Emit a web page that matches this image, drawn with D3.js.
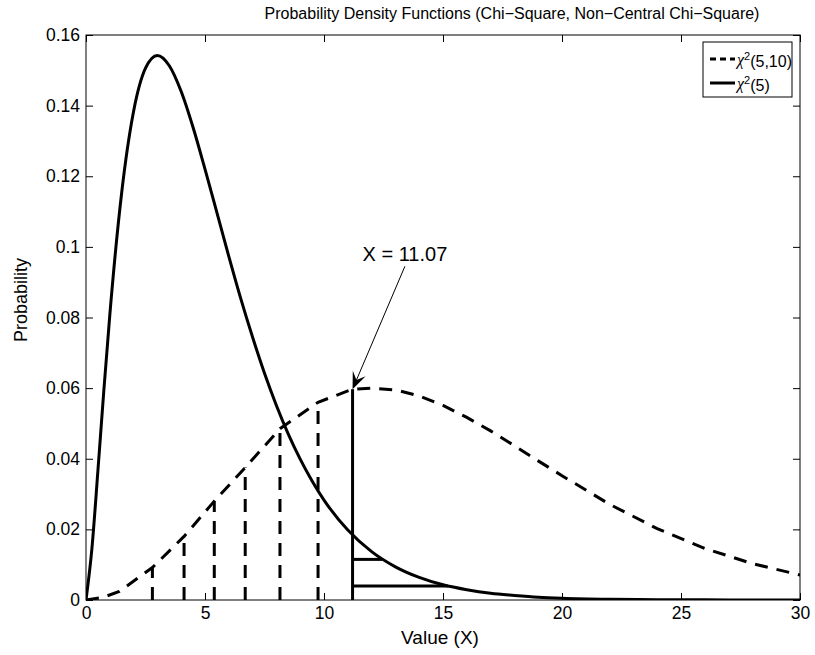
<!DOCTYPE html>
<html>
<head>
<meta charset="utf-8">
<script src="https://cdn.jsdelivr.net/npm/d3@7"></script>
<style>
  body { margin: 0; background: #fff; }
  text { font-family: "Liberation Sans", Arial, Helvetica, sans-serif; fill: #000; }
</style>
</head>
<body>
<div id="chart"></div>
<script>
// values
var xTicks = [0, 5, 10, 15, 20, 25, 30];
var yTicks = [0, 0.02, 0.04, 0.06, 0.08, 0.1, 0.12, 0.14, 0.16];

// chi2(5) curve
var chiX = [0, 0.25, 0.5, 0.75, 1, 1.5, 2, 2.5, 3, 3.5, 4, 4.5, 5, 5.5, 6, 6.5, 7, 7.5, 8, 8.5, 9, 9.5, 10, 11, 12, 13, 14, 15, 16, 17, 18, 19, 20, 22, 24, 26, 28, 30];
var chiY = [0, 0.0147, 0.0366, 0.0594, 0.0807, 0.1154, 0.1384, 0.1506, 0.1542, 0.1513, 0.1440, 0.1338, 0.1220, 0.1097, 0.0973, 0.0854, 0.0744, 0.0642, 0.0551, 0.0470, 0.0399, 0.0337, 0.0283, 0.0198, 0.0137, 0.0094, 0.0064, 0.0043, 0.0029, 0.0019, 0.0013, 0.0008, 0.0005, 0.0002, 0.0001, 0.00004, 0.00002, 0.00001];

// chi2(5,10) curve
var ncX = [0, 0.7, 1.4, 2.79, 4.12, 5.39, 6.69, 8.15, 9.75, 11.2, 12, 13, 14, 15, 16, 17, 18, 19, 20, 22, 24, 26, 28, 30];
var ncY = [0, 0.0007, 0.0024, 0.0092, 0.0180, 0.0280, 0.0375, 0.0485, 0.0560, 0.0597, 0.0600, 0.0595, 0.0578, 0.0551, 0.0517, 0.0479, 0.0437, 0.0394, 0.0352, 0.0271, 0.0202, 0.0146, 0.0103, 0.0071];

// dashed drop lines under the non-central curve
var dropX = [2.79, 4.12, 5.39, 6.69, 8.15, 9.75];
var dropY = [0.0092, 0.0180, 0.0280, 0.0375, 0.0485, 0.0560];

// critical value line and the two steps on the tail
var critX = 11.2;
var critY = 0.0597;
var stepEndX = [12.45, 15.2];
var stepY = [0.0115, 0.0040];

var critLabel = "X = 11.07";
var labelAt = [13.4, 0.0960];
var arrowFrom = [13.4, 0.0945];

var titleText = "Probability Density Functions (Chi\u2212Square, Non\u2212Central Chi\u2212Square)";
var xLabel = "Value (X)";
var yLabel = "Probability";
var legendNames = ["(5,10)", "(5)"];

var width = 815, height = 655;
var margin = {top: 35, right: 15, bottom: 55, left: 86};
var w = width - margin.left - margin.right;
var h = height - margin.top - margin.bottom;

var svg = d3.select("#chart")
    .append("svg")
    .attr("width", width)
    .attr("height", height)

var g = svg.append("g")
    .attr("transform", "translate(" + margin.left + "," + margin.top + ")")

var x = d3.scaleLinear().domain([0, 30]).range([0, w]);
var y = d3.scaleLinear().domain([0, 0.16]).range([h, 0]);

var fmt = function(d) { return String(+d.toFixed(2)); }

//axes, ticks pointing inward on all four sides
function styleAxis(sel) {
    sel.select(".domain").remove();
    sel.selectAll("line").attr("stroke", "#000").attr("stroke-width", 1);
    sel.selectAll("text").style("font-size", "17.5px");
}

g.append("g")
    .attr("transform", "translate(0," + h + ")")
    .call(d3.axisBottom(x).tickValues(xTicks).tickSize(-7).tickPadding(7).tickFormat(fmt))
    .call(styleAxis)

g.append("g")
    .call(d3.axisTop(x).tickValues(xTicks).tickSize(-7).tickFormat(""))
    .call(styleAxis)

g.append("g")
    .call(d3.axisLeft(y).tickValues(yTicks).tickSize(-7).tickPadding(6).tickFormat(fmt))
    .call(styleAxis)

g.append("g")
    .attr("transform", "translate(" + w + ",0)")
    .call(d3.axisRight(y).tickValues(yTicks).tickSize(-7).tickFormat(""))
    .call(styleAxis)

g.append("defs").append("clipPath")
    .attr("id", "clip")
    .append("rect")
    .attr("width", w)
    .attr("height", h)

var plot = g.append("g").attr("clip-path", "url(#clip)");

var line = d3.line()
    .x(function(d) { return x(d[0]); })
    .y(function(d) { return y(d[1]); })

// curves
plot.append("path")
    .datum(d3.zip(chiX, chiY))
    .attr("fill", "none")
    .attr("stroke", "#000")
    .attr("stroke-width", 3)
    .attr("d", line.curve(d3.curveMonotoneX))

plot.append("path")
    .datum(d3.zip(ncX, ncY))
    .attr("fill", "none")
    .attr("stroke", "#000")
    .attr("stroke-width", 3)
    .attr("stroke-dasharray", "13,9")
    .attr("d", line.curve(d3.curveLinear))

// drop lines
plot.selectAll(".drop")
    .data(d3.zip(dropX, dropY))
    .enter()
    .append("line")
    .attr("class", "drop")
    .attr("x1", function(d) { return x(d[0]); })
    .attr("x2", function(d) { return x(d[0]); })
    .attr("y1", y(0))
    .attr("y2", function(d) { return y(d[1]); })
    .attr("stroke", "#000")
    .attr("stroke-width", 3)
    .attr("stroke-dasharray", "13,9")

plot.append("line")
    .attr("x1", x(critX)).attr("x2", x(critX))
    .attr("y1", y(0)).attr("y2", y(critY))
    .attr("stroke", "#000")
    .attr("stroke-width", 3)

plot.selectAll(".step")
    .data(d3.zip(stepEndX, stepY))
    .enter()
    .append("line")
    .attr("class", "step")
    .attr("x1", x(critX))
    .attr("x2", function(d) { return x(d[0]); })
    .attr("y1", function(d) { return y(d[1]); })
    .attr("y2", function(d) { return y(d[1]); })
    .attr("stroke", "#000")
    .attr("stroke-width", 3)

// frame
g.append("rect")
    .attr("width", w)
    .attr("height", h)
    .attr("fill", "none")
    .attr("stroke", "#000")
    .attr("stroke-width", 1)

// annotation arrow
var ax0 = x(arrowFrom[0]), ay0 = y(arrowFrom[1]);
var ax1 = x(critX), ay1 = y(critY);
var ang = Math.atan2(ay1 - ay0, ax1 - ax0);
var hl = 17, hw = 7;
function pt(back, side) {
    return [ax1 - back * Math.cos(ang) - side * Math.sin(ang),
            ay1 - back * Math.sin(ang) + side * Math.cos(ang)];
}
g.append("line")
    .attr("x1", ax0).attr("y1", ay0)
    .attr("x2", pt(8, 0)[0]).attr("y2", pt(8, 0)[1])
    .attr("stroke", "#000")
    .attr("stroke-width", 1)
g.append("path")
    .attr("d", "M" + [ax1, ay1] + "L" + pt(hl, hw) + "L" + pt(10, 0) + "L" + pt(hl, -hw) + "Z")
    .attr("fill", "#000")

g.append("text")
    .attr("x", x(labelAt[0]))
    .attr("y", y(labelAt[1]))
    .attr("text-anchor", "middle")
    .style("font-size", "20px")
    .text(critLabel)

// titles
svg.append("text")
    .attr("x", 512)
    .attr("y", 19)
    .attr("text-anchor", "middle")
    .style("font-size", "16px")
    .text(titleText)

svg.append("text")
    .attr("x", margin.left + w / 2 - 3)
    .attr("y", 644)
    .attr("text-anchor", "middle")
    .style("font-size", "19px")
    .text(xLabel)

svg.append("text")
    .attr("transform", "translate(27,300) rotate(-90)")
    .attr("text-anchor", "middle")
    .style("font-size", "18px")
    .text(yLabel)

// legend
var lg = g.append("g").attr("transform", "translate(" + (w - 97) + ",7)");
lg.append("rect")
    .attr("width", 89)
    .attr("height", 55)
    .attr("fill", "#fff")
    .attr("stroke", "#000")
    .attr("stroke-width", 1)

lg.selectAll(".item")
    .data(legendNames)
    .enter()
    .append("g")
    .attr("class", "item")
    .each(function(d, i) {
        var it = d3.select(this).attr("transform", "translate(0," + (17 + i * 24) + ")");
        it.append("line")
            .attr("x1", 7).attr("x2", 32)
            .attr("stroke", "#000")
            .attr("stroke-width", 3)
            .attr("stroke-dasharray", i == 0 ? "6,4" : null)
        var t = it.append("text")
            .attr("x", 34)
            .attr("dy", "0.35em")
            .style("font-size", "16px")
        t.append("tspan").style("font-family", "'Liberation Serif', serif").style("font-style", "italic").text("\u03c7")
        t.append("tspan").attr("dy", "-0.45em").style("font-size", "11px").text("2")
        t.append("tspan").attr("dy", "0.45em").text(d)
    })
</script>
</body>
</html>
